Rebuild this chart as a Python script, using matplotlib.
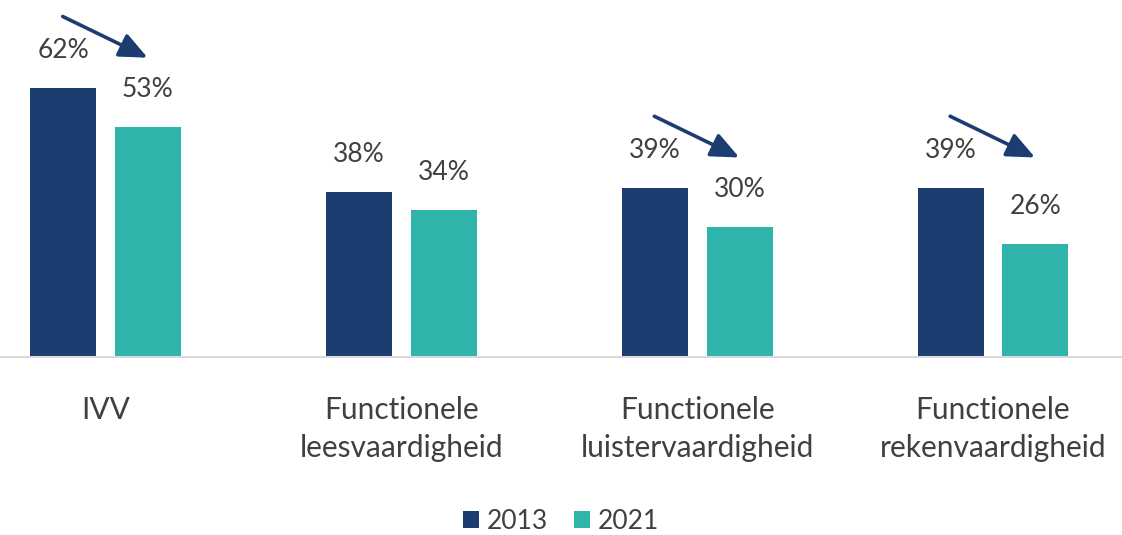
import numpy as np
import matplotlib.pyplot as plt

categories = ['IVV', 'Functionele\nleesvaardigheid', 'Functionele\nluistervaardigheid', 'Functionele\nrekenvaardigheid']
values_2013 = [62, 38, 39, 39]
values_2021 = [53, 34, 30, 26]
# groups where a downward arrow is drawn
arrow_groups = [0, 2, 3]

c2013 = '#1b3d6f'
c2021 = '#2fb4ac'
text_color = '#404040'

plt.rcParams['font.family'] = ['Lato', 'DejaVu Sans']

fig = plt.figure(figsize=(11.22, 5.35), dpi=100)
ax = fig.add_axes([0, 0.3327, 1, 0.6673])

x = np.arange(len(categories))
width = 0.223
offset = 0.143

b1 = ax.bar(x - offset, values_2013, width, color=c2013, label='2013')
b2 = ax.bar(x + offset, values_2021, width, color=c2021, label='2021')

for bars, vals in [(b1, values_2013), (b2, values_2021)]:
    for bar, v in zip(bars, vals):
        ax.annotate(f'{v}%', (bar.get_x() + bar.get_width() / 2, v),
                    xytext=(0, 27), textcoords='offset points',
                    ha='center', va='center', fontsize=19, color=text_color)

for i in arrow_groups:
    top = values_2013[i]
    ax.annotate('', xy=(x[i] + 0.142, top + 7), xytext=(x[i] - 0.145, top + 16.5),
                arrowprops=dict(arrowstyle='-|>,head_length=1.7,head_width=0.75',
                                color=c2013, lw=2.6, shrinkA=0, shrinkB=0))

ax.set_xlim(-0.357, 3.436)
ax.set_ylim(0, 82.3)
ax.set_yticks([])
ax.set_xticks(x)
ax.set_xticklabels(categories, fontsize=21.5, color=text_color, linespacing=1.42)
ax.tick_params(axis='x', length=0, pad=28)
for s in ['top', 'right', 'left']:
    ax.spines[s].set_visible(False)
ax.spines['bottom'].set_color('#d9d9d9')
ax.spines['bottom'].set_linewidth(1.5)

fig.legend(handles=[b1, b2], loc='center', bbox_to_anchor=(0.5, 0.025),
           ncol=2, frameon=False, fontsize=19, handlelength=0.6, handleheight=0.6,
           handletextpad=0.3, columnspacing=1.0, labelcolor=text_color)

fig.savefig('out.png', dpi=100)
